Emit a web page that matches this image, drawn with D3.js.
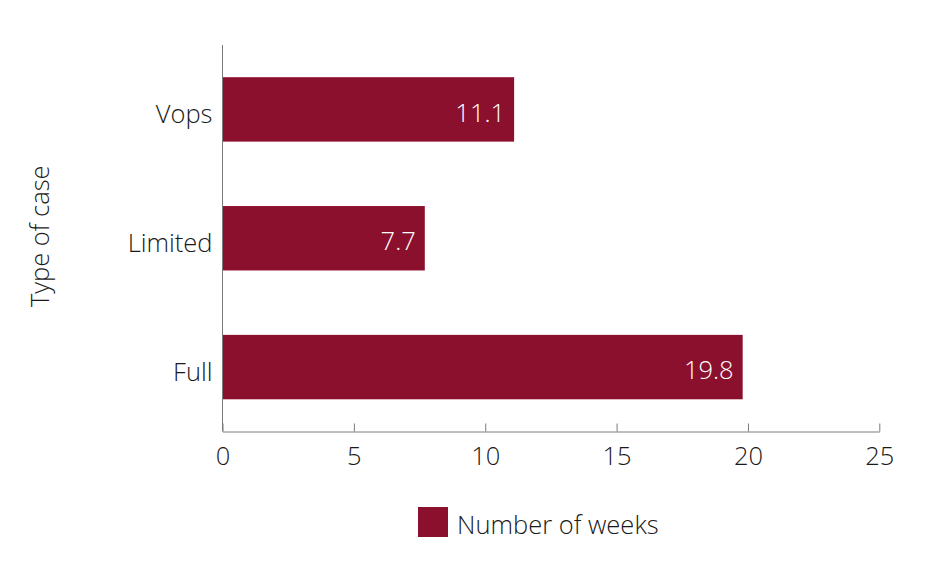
<!DOCTYPE html>
<html><head><meta charset="utf-8">
<script src="https://cdn.jsdelivr.net/npm/d3@7"></script>
<style>body{margin:0;background:#fff;}text{font-family:"Open Sans",sans-serif;font-weight:300;}</style>
</head><body>
<svg id="c" width="945" height="569"></svg>
<script>
const categories = ["Vops", "Limited", "Full"];
const values = [11.1, 7.7, 19.8];
const xTicks = [0, 5, 10, 15, 20, 25];
const seriesName = "Number of weeks";
const yTitle = "Type of case";

(function(){
const svg = d3.select("#c");
const mL = 222.5, mR = 879.3, mT = 45, mB = 431.5;
const color = "#8B102E";
const fs = 25.5;
const x = d3.scaleLinear().domain([0, 25]).range([mL, mR]);
const y = d3.scaleBand().domain(categories).range([mT, mB]).paddingInner(0.5).paddingOuter(0.25);

svg.selectAll("rect.bar").data(categories).enter().append("rect")
  .attr("class","bar")
  .attr("x", x(0)).attr("y", d => y(d))
  .attr("width", (d,i) => x(values[i]) - x(0))
  .attr("height", y.bandwidth())
  .attr("fill", color);

svg.selectAll("text.val").data(categories).enter().append("text")
  .attr("x", (d,i) => x(values[i]) - 9)
  .attr("y", d => y(d) + y.bandwidth()/2 + 3)
  .attr("dy", "0.36em")
  .attr("text-anchor", "end")
  .attr("fill", "#fff")
  .attr("font-size", fs)
  .text((d,i) => values[i].toFixed(1));

const xa = svg.append("g").attr("transform", `translate(0,${mB})`)
  .call(d3.axisBottom(x).tickValues(xTicks).tickSize(-8).tickPadding(15).tickSizeOuter(0));
xa.select(".domain").attr("stroke", "#7a7a7a");
xa.selectAll(".tick line").attr("stroke", "#7a7a7a");
xa.selectAll(".tick text").attr("font-size", fs).attr("fill", "#1a1a1a").attr("font-family", "'Open Sans',sans-serif");

const ya = svg.append("g").attr("transform", `translate(${mL},0)`)
  .call(d3.axisLeft(y).tickSize(0).tickPadding(10));
ya.select(".domain").attr("stroke", "#7a7a7a").attr("d", `M0,${mT}V${mB}`);
ya.selectAll(".tick text").attr("font-size", fs).attr("fill", "#1a1a1a").attr("font-family", "'Open Sans',sans-serif")
  .attr("dy", "0.55em");

svg.append("text")
  .attr("transform", `translate(49,${(mT+mB)/2 - 2}) rotate(-90)`)
  .attr("text-anchor", "middle")
  .attr("font-size", fs).attr("fill", "#1a1a1a")
  .text(yTitle);

svg.append("rect").attr("x", 418).attr("y", 507).attr("width", 30).attr("height", 30).attr("fill", color);
svg.append("text").attr("x", 457).attr("y", 525).attr("dy", "0.36em")
  .attr("font-size", fs).attr("fill", "#1a1a1a").text(seriesName);
})();
</script>
</body></html>
